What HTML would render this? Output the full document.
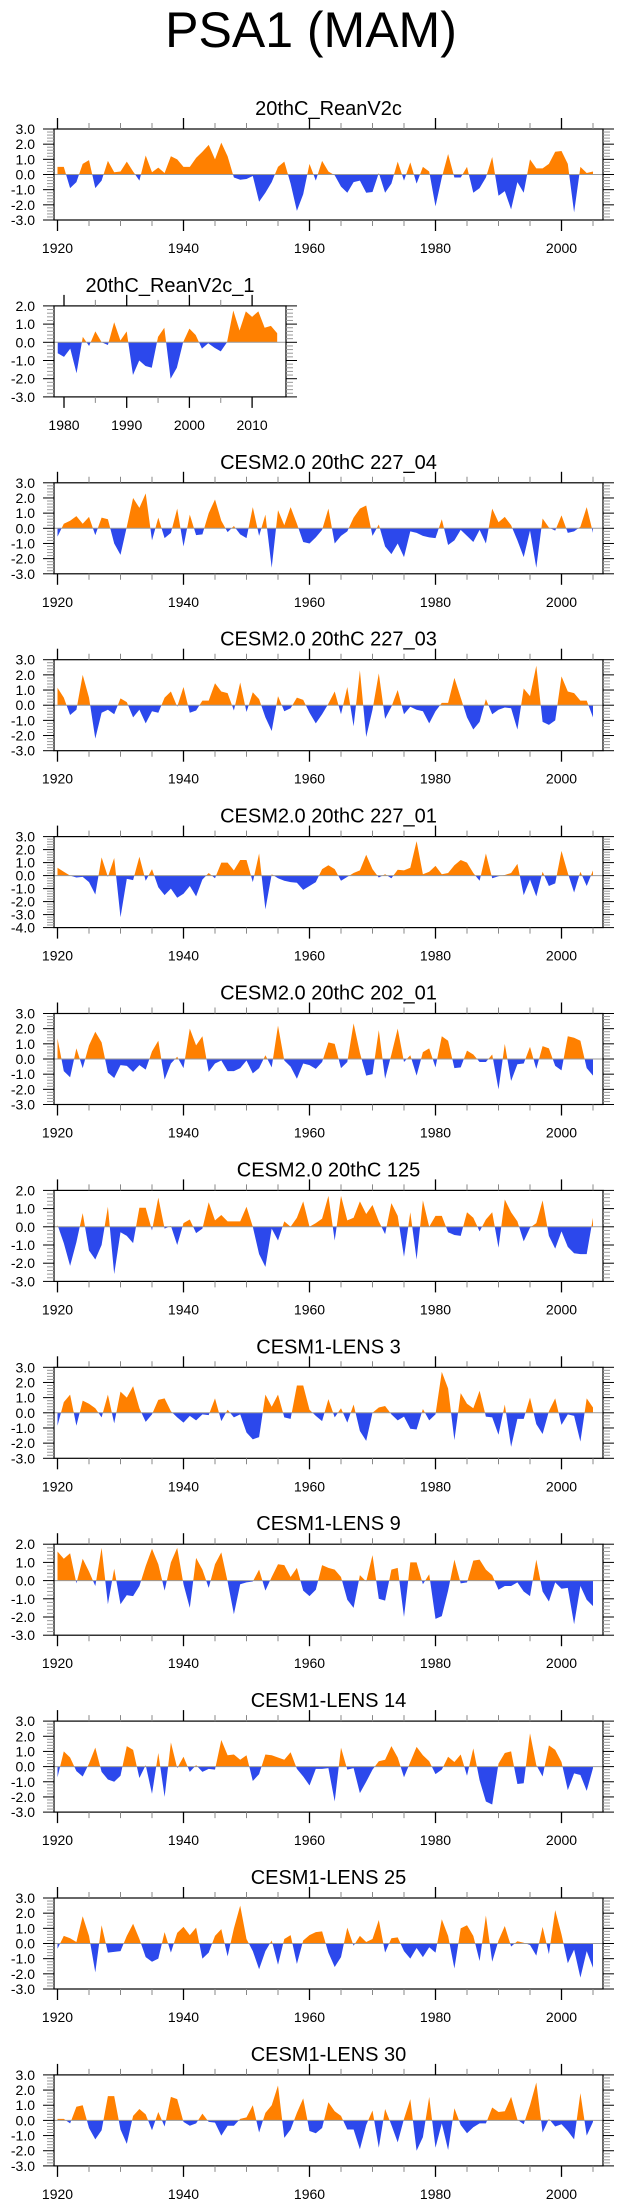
<!DOCTYPE html>
<html><head><meta charset="utf-8"><title>PSA1 (MAM)</title>
<style>html,body{margin:0;padding:0;background:#fff;}svg{display:block;font-family:"Liberation Sans",Arial,sans-serif;}</style>
</head><body>
<svg id="chart" width="623" height="2209" viewBox="0 0 623 2209" xmlns="http://www.w3.org/2000/svg">
<text x="311" y="47" text-anchor="middle" font-size="50" fill="#000">PSA1 (MAM)</text>
</svg>
<script>
// ---- data (years start 1920 unless noted) ----
const yearsMain = Array.from({length:86},(_,i)=>1920+i);
const yearsShort = Array.from({length:36},(_,i)=>1979+i);
const titles = ["20thC_ReanV2c","20thC_ReanV2c_1","CESM2.0 20thC 227_04","CESM2.0 20thC 227_03","CESM2.0 20thC 227_01","CESM2.0 20thC 202_01","CESM2.0 20thC 125","CESM1-LENS 3","CESM1-LENS 9","CESM1-LENS 14","CESM1-LENS 25","CESM1-LENS 30"];
const yMaxList = [3,2,3,3,3,3,2,3,2,3,3,3];
const yMinList = [-3,-3,-3,-3,-4,-3,-3,-3,-3,-3,-3,-3];
const reanV2c = [0.5,0.5,-0.9,-0.5,0.7,0.95,-0.9,-0.4,0.9,0.15,0.2,0.85,0.2,-0.4,1.25,0.15,0.45,0.1,1.2,1.0,0.5,0.5,1.1,1.5,1.95,1.0,2.1,1.2,-0.2,-0.35,-0.3,-0.1,-1.8,-1.2,-0.5,0.5,0.85,-0.6,-2.4,-1.3,0.7,-0.4,0.9,0.2,-0.05,-0.8,-1.2,-0.5,-0.4,-1.2,-1.15,0.1,-1.2,-0.6,0.85,-0.4,0.8,-0.6,0.5,0.2,-2.1,-0.2,1.35,-0.2,-0.2,0.5,-1.2,-0.9,-0.2,1.15,-1.4,-1.1,-2.3,-0.5,-1.2,1.0,0.4,0.4,0.7,1.5,1.55,0.7,-2.5,0.5,0.1,0.2];
const reanV2c1 = [-0.6,-0.8,-0.35,-1.7,0.3,-0.2,0.6,0,-0.15,1.1,0.1,0.6,-1.8,-1.0,-1.3,-1.4,0.3,0.8,-2.0,-1.4,0,0.75,0.4,-0.35,-0.05,-0.3,-0.5,0,1.75,0.65,1.7,1.4,1.7,0.8,0.9,0.5];
const c227_04 = [-0.55,0.3,0.5,0.8,0.3,0.75,-0.45,0.7,0.6,-1.0,-1.75,0.1,2.0,1.35,2.3,-0.8,0.7,-0.65,-0.3,1.3,-1.2,0.9,-0.45,-0.4,1.0,1.9,0.5,-0.25,0.15,-0.4,-0.65,1.4,-0.5,0.9,-2.6,1.2,0.2,1.4,0.3,-0.9,-1.0,-0.6,-0.1,1.3,-1.0,-0.5,-0.2,0.7,1.3,1.5,-0.5,0.25,-1.2,-1.7,-1.0,-1.9,-0.2,-0.3,-0.5,-0.6,-0.65,0.6,-1.1,-0.8,-0.1,-0.5,-0.9,-0.1,-1.0,1.3,0.4,0.75,0.2,-0.8,-1.9,-0.15,-2.6,0.65,0.05,-0.15,0.85,-0.3,-0.2,0.1,1.4,-0.3];
const c227_03 = [1.15,0.5,-0.65,-0.3,2.0,0.5,-2.2,-0.5,-0.3,-0.6,0.45,0.2,-0.8,-0.3,-1.2,-0.4,-0.5,0.5,0.9,-0.1,1.2,-0.5,-0.35,0.3,0.3,1.45,0.9,0.8,-0.35,1.5,-0.45,0.85,0.4,-0.8,-1.7,0.6,-0.4,-0.2,0.5,0.35,-0.5,-1.2,-0.6,0.1,0.9,-0.6,1.2,-1.4,2.3,-2.1,-0.3,2.1,-0.9,-0.1,1.0,-0.6,-0.1,-0.3,-0.4,-1.2,-0.4,0.15,0.15,1.8,0.5,-0.8,-1.6,-1.1,0.4,-0.6,-0.3,-0.15,-0.2,-1.6,1.1,0.6,2.6,-1.1,-1.3,-1.0,1.9,0.9,0.8,0.3,0.3,-0.8];
const c227_01 = [0.6,0.3,0.0,-0.15,-0.1,-0.5,-1.45,1.4,-0.1,1.35,-3.2,-0.25,-0.35,1.45,-0.4,0.5,-0.9,-1.5,-1.0,-1.7,-1.4,-0.8,-1.6,-0.3,0.2,-0.2,1.0,1.0,0.4,1.2,1.2,-0.5,1.7,-2.6,0.1,-0.2,-0.4,-0.5,-0.55,-1.1,-0.8,-0.5,0.5,0.8,0.5,-0.4,-0.1,0.2,0.4,1.6,0.5,-0.15,0.1,-0.2,0.45,0.4,0.6,2.65,0.1,0.3,0.75,0.1,0.2,0.8,1.2,1.0,0.2,-0.4,1.7,-0.2,-0.05,0.05,0.2,0.9,-1.5,-0.3,-1.6,0.3,-0.8,-0.6,1.9,0.2,-1.3,0.3,-0.8,0.4];
const c202_01 = [1.35,-0.8,-1.2,0.7,-0.6,0.9,1.8,1.1,-0.9,-1.25,-0.4,-0.45,-0.85,-0.4,-0.7,0.5,1.2,-1.35,-0.3,0.15,-0.6,2.0,0.9,1.5,-0.85,-0.3,-0.1,-0.8,-0.8,-0.6,-0.1,-0.95,-0.6,0.25,-0.55,2.2,-0.1,-0.5,-1.3,-0.3,-0.4,-0.65,-0.2,1.1,1.0,-0.6,-0.2,2.35,0.4,-1.1,-1.0,1.9,-1.3,0.3,2.0,-0.2,0.25,-1.1,0.45,0.7,-0.55,1.5,1.2,-0.6,-0.55,0.55,0.3,-0.2,-0.2,0.3,-2.0,1.0,-1.45,-0.35,-0.3,0.8,-0.65,0.85,0.7,-0.45,-0.75,1.5,1.4,1.2,-0.6,-1.1];
const c125 = [0.1,-0.9,-2.15,-0.85,0.75,-1.3,-1.8,-1.0,1.1,-2.6,-0.3,-0.5,-0.9,1.05,1.05,-0.2,1.6,-0.1,0.05,-1.0,0.2,0.4,-0.35,-0.1,1.35,0.35,0.65,0.3,0.3,0.3,1.1,0.0,-1.5,-2.2,-0.1,-0.75,0.3,0,0.5,1.4,0,0.2,0.45,1.7,-0.75,1.7,0.35,0.5,1.4,0.7,1.2,0.3,-0.4,1.3,0.6,-1.65,0.8,-1.8,1.45,0,0.6,0.6,-0.3,-0.45,-0.5,0.8,0.5,-0.25,0.4,0.8,-1.15,1.5,0.8,0.3,-0.8,-0.05,0.2,1.45,-0.5,-1.2,-0.25,-1.1,-1.45,-1.5,-1.5,0.5];
const lens3 = [-0.85,0.7,1.2,-0.85,0.8,0.6,0.3,-0.3,1.2,-0.7,1.4,1.0,1.75,0.3,-0.6,-0.1,0.85,0.95,0.1,-0.3,-0.65,-0.2,-0.5,-0.1,-0.15,0.95,-0.55,0.2,-0.3,-0.1,-1.3,-1.75,-1.6,1.2,0.4,1.2,-0.3,-0.4,1.8,1.8,0.2,-0.2,-0.55,0.9,-0.3,0.3,-0.65,0.55,-1.2,-1.85,0.0,0.35,0.45,-0.1,-0.5,-0.25,-1.05,-1.1,0.25,-0.5,-0.1,2.7,1.6,-1.8,1.3,0.6,0.3,1.45,-0.25,-0.3,-1.45,0.55,-2.25,-0.4,-0.4,1.0,-0.75,-1.4,0.1,0.95,-0.8,-0.1,-0.2,-1.9,0.95,0.35];
const lens9 = [1.6,1.2,1.5,-0.15,1.2,0.5,-0.3,1.8,-1.3,0.65,-1.3,-0.8,-0.85,-0.3,0.8,1.75,0.9,-0.55,1.0,1.8,-0.2,-1.5,1.25,0.6,-0.4,0.9,1.55,-0.05,-1.85,-0.2,-0.1,-0.05,0.6,-0.55,0.2,0.9,0.85,0.2,0.7,-0.55,-0.85,-0.5,0.85,0.7,0.6,0.2,-1.05,-1.5,0.3,-0.05,1.4,-1.0,-1.1,0.6,0.7,-2.0,1.0,1.0,-0.2,0.35,-2.1,-1.95,-0.55,1.15,-0.15,-0.1,1.1,1.15,0.6,0.3,-0.5,-0.3,-0.3,-0.1,-0.6,-0.85,1.15,-0.6,-1.15,-0.1,-0.45,-0.4,-2.4,-0.3,-1.05,-1.4];
const lens14 = [-0.7,1.0,0.6,-0.3,-0.65,0.2,1.25,-0.35,-0.85,-1.0,-0.6,1.35,1.1,-0.75,0.1,-1.8,0.9,-2.0,1.6,-0.1,0.65,-0.35,0.1,-0.35,-0.15,-0.2,1.75,0.75,0.8,0.45,0.75,-0.95,-0.5,0.8,0.75,0.6,0.45,0.95,-0.15,-0.65,-1.25,-0.15,-0.15,-0.1,-2.3,1.25,-0.2,-0.1,-1.75,-1.0,-0.2,0.35,0.45,1.35,0.6,-0.7,0.3,1.3,0.75,0.35,-0.5,-0.2,0.65,0.3,0.8,-0.6,1.2,-0.9,-2.3,-2.5,0.2,0.9,1.0,-1.15,-1.1,2.2,0.1,-0.65,1.4,1.1,0.3,-1.55,-0.45,-0.55,-1.6,-0.1];
const lens25 = [-0.35,0.5,0.35,0.1,1.8,0.5,-1.9,1.2,-0.6,-0.55,-0.5,0.5,1.3,0.3,-0.9,-1.2,-1.0,0.75,-0.6,0.7,1.1,0.55,1.05,-1.0,-0.6,0.5,0.95,-0.85,1.0,2.5,0.3,-0.5,-1.7,-0.5,0.2,-1.4,0.3,0.55,-1.35,0.2,0.55,0.75,0.8,-0.6,-1.55,-0.9,1.05,-0.15,0.5,0.1,0.3,1.55,-0.6,0.35,0.4,-0.5,-1.0,-0.3,-0.9,-0.25,-0.6,1.6,0.5,-1.65,1.0,1.2,0.5,-1.15,1.85,-1.2,0.2,1.15,-0.2,0.15,0.05,-0.1,-0.8,1.1,-0.7,2.2,0.6,-1.3,-0.4,-2.25,-0.5,-1.6];
const lens30 = [0.1,0.1,-0.2,0.9,1.0,-0.5,-1.25,-0.65,1.6,1.6,-0.6,-1.55,0.3,0.75,0.4,-0.65,0.55,-0.4,1.55,1.4,-0.1,-0.35,-0.2,0.45,-0.1,-0.15,-1.0,-0.35,-0.35,0.1,0.2,1.0,-0.8,0.5,1.0,2.3,-1.15,-0.6,0.5,1.45,-0.7,-0.85,-0.5,1.2,0.6,0.3,-0.6,-0.6,-1.9,-0.3,0.65,-1.8,0.75,-0.3,-1.45,0.1,1.4,-2.0,-1.1,1.55,-1.8,-0.2,-1.95,0.8,-0.3,-0.85,-0.45,-0.2,-0.2,0.85,0.55,0.6,1.55,0.05,-0.25,1.0,2.5,-0.8,0.1,-0.4,-0.25,-0.7,-1.25,1.8,-1.0,-0.1];
const seriesList = [reanV2c,reanV2c1,c227_04,c227_03,c227_01,c202_01,c125,lens3,lens9,lens14,lens25,lens30];

// ---- drawing ----
const NS = "http://www.w3.org/2000/svg";
const svg = document.getElementById("chart");
function el(tag, parent){ const e=document.createElementNS(NS,tag); parent.appendChild(e); return e; }
function setA(e, obj){ for(const k in obj) e.setAttribute(k,obj[k]); }

const ORANGE="#ff8000", BLUE="#2c48ec";
for(let p=0;p<12;p++){
  const short = (p===1);
  const years = short ? yearsShort : yearsMain;
  const vals = seriesList[p];
  const top = 129 + 176.9*p, bottom = top + 91;
  const left = 54, right = short ? 286 : 603;
  const yr0 = short ? 1980 : 1920, px0 = short ? 64 : 57.5, pxPerYr = short ? 6.27 : 6.3;
  const xS = yr => px0 + (yr - yr0)*pxPerYr;
  const ymax = yMaxList[p], ymin = yMinList[p];
  const yS = v => top + (ymax - v)/(ymax - ymin)*(bottom - top);
  const zy = yS(0);

  const g = el("g", svg);
  
  

  const t = el("text", g);
  setA(t,{x:(left+right)/2, y:top-14, "text-anchor":"middle", "font-size":20, fill:"#000"});
  t.textContent = titles[p];
  
  

  // clip paths
  const defs = el("defs", g);
  const cpU = el("clipPath", defs); cpU.id = "cu"+p;
  const rU = el("rect", cpU); setA(rU,{x:left, y:top, width:right-left, height:zy-top});
  const cpD = el("clipPath", defs); cpD.id = "cd"+p;
  const rD = el("rect", cpD); setA(rD,{x:left, y:zy, width:right-left, height:bottom-zy});

  let d = "M"+xS(years[0]).toFixed(2)+","+zy.toFixed(2);
  for(let i=0;i<vals.length;i++) d += " L"+xS(years[i]).toFixed(2)+","+yS(vals[i]).toFixed(2);
  d += " L"+xS(years[vals.length-1]).toFixed(2)+","+zy.toFixed(2)+" Z";
  const pu = el("path", g); setA(pu,{d:d, fill:ORANGE, "clip-path":"url(#cu"+p+")"});
  
  
  const pd = el("path", g); setA(pd,{d:d, fill:BLUE, "clip-path":"url(#cd"+p+")"});
  
  

  const zl = el("line", g); setA(zl,{x1:left, x2:right, y1:zy, y2:zy, stroke:"#999", "stroke-width":1});
  
  

  const box = el("rect", g); setA(box,{x:left, y:top, width:right-left, height:bottom-top, fill:"none", stroke:"#000", "stroke-width":1.2});
  
  

  // x ticks
  const majStep = short ? 10 : 20;
  const yStart = short ? 1980 : 1920, yEnd = short ? 2014 : 2005;
  for(let yr=yStart; yr<=yEnd; yr+=5){
    const x = xS(yr), major = (yr % majStep === 0);
    const len = major ? 11 : 6, col = major ? "#000" : "#888";
    const a = el("line", g); setA(a,{x1:x,x2:x,y1:top,y2:top-len,stroke:col,"stroke-width":major?1.3:1});
    
    
    const b = el("line", g); setA(b,{x1:x,x2:x,y1:bottom,y2:bottom+len,stroke:col,"stroke-width":major?1.3:1});
    
    
    if(major){
      const lt = el("text", g); setA(lt,{x:x, y:top+124, "text-anchor":"middle", "font-size":14, fill:"#000"});
      lt.textContent = String(yr);
      
      
    }
  }
  // y ticks
  const nMin = Math.round((ymax-ymin)/0.2);
  for(let k=0;k<=nMin;k++){
    const v = ymax - k*0.2, y = yS(v), major = (k%5===0);
    const len = major ? 11 : 7, col = major ? "#000" : "#999";
    const a = el("line", g); setA(a,{x1:left,x2:left-len,y1:y,y2:y,stroke:col,"stroke-width":1});
    
    
    const b = el("line", g); setA(b,{x1:right,x2:right+len,y1:y,y2:y,stroke:col,"stroke-width":1});
    
    
    if(major){
      const lt = el("text", g); setA(lt,{x:35, y:y+5, "text-anchor":"end", "font-size":14, fill:"#000"});
      lt.textContent = (Math.round(v*10)/10).toFixed(1);
      
      
    }
  }
}
</script>
</body></html>
